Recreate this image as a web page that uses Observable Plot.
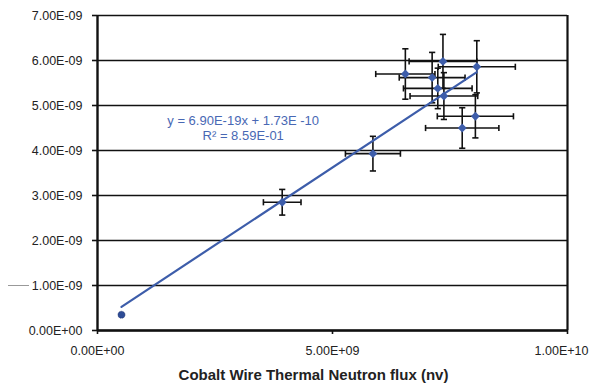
<!DOCTYPE html>
<html>
<head>
<meta charset="utf-8">
<script src="https://cdn.jsdelivr.net/npm/d3@7"></script>
<script src="https://cdn.jsdelivr.net/npm/@observablehq/plot@0.6"></script>
<style>
  html, body { margin: 0; padding: 0; background: #fff; }
  #chart { position: relative; width: 592px; height: 386px; }
  #chart svg { font-family: "Liberation Sans", Arial, sans-serif; }
  #dash { position: absolute; left: 8px; top: 285px; width: 21px; height: 0; border-top: 1px solid #999; }
</style>
</head>
<body>
<div id="chart"><div id="dash"></div></div>
<script>
// Cobalt wire thermal neutron flux (nv) and measured values
const flux    = [0.51e9, 3.93e9, 5.86e9, 6.55e9, 7.12e9, 7.35e9, 8.07e9, 7.24e9, 7.37e9, 8.04e9, 7.76e9];
const rate    = [0.35e-9, 2.85e-9, 3.93e-9, 5.70e-9, 5.62e-9, 5.98e-9, 5.86e-9, 5.38e-9, 5.21e-9, 4.76e-9, 4.50e-9];
const fluxErr = [0, 0.40e9, 0.585e9, 0.63e9, 0.70e9, 0.72e9, 0.82e9, 0.73e9, 0.72e9, 0.81e9, 0.78e9];
const rateErr = [0, 0.285e-9, 0.385e-9, 0.56e-9, 0.56e-9, 0.60e-9, 0.58e-9, 0.45e-9, 0.52e-9, 0.48e-9, 0.45e-9];
const isReference = [true, false, false, false, false, false, false, false, false, false, false];

// Trendline parameters
const slope = 6.90e-19;
const intercept = 1.73e-10;
const equationText = ["y = 6.90E-19x + 1.73E -10", "R² = 8.59E-01"];
const equationPos = [3.1e9, 4.5e-9];

// Axis ticks and title
const xTicks = [0, 5e9, 1e10];
const yTicks = [0, 1e-9, 2e-9, 3e-9, 4e-9, 5e-9, 6e-9, 7e-9];
const xTitle = "Cobalt Wire Thermal Neutron flux (nv)";

function fmtE(d) {
  const [m, e] = d.toExponential(2).split("e");
  const n = +e;
  return m + "E" + (n < 0 ? "-" : "+") + String(Math.abs(n)).padStart(2, "0");
}

const data = flux.map((x, i) => ({
  x, y: rate[i], ex: fluxErr[i], ey: rateErr[i], ref: isReference[i]
}));
const errData = data.filter(d => d.ex > 0 || d.ey > 0);
const mainPts = data.filter(d => !d.ref);
const refPts = data.filter(d => d.ref);

const [xmin, xmax] = d3.extent(flux);
const trend = [xmin, xmax].map(x => ({x, y: slope * x + intercept}));

const vCap = {draw(ctx, size) { const r = Math.sqrt(size) / 2; ctx.moveTo(0, -r); ctx.lineTo(0, r); }};
const hCap = {draw(ctx, size) { const r = Math.sqrt(size) / 2; ctx.moveTo(-r, 0); ctx.lineTo(r, 0); }};
const diamond = {draw(ctx, size) { const r = Math.sqrt(size) / 2; ctx.moveTo(0, -r); ctx.lineTo(r, 0); ctx.lineTo(0, r); ctx.lineTo(-r, 0); ctx.closePath(); }};

const blue = "#3D5DAA";
const lastX = xTicks[xTicks.length - 1];

const chart = Plot.plot({
  width: 592,
  height: 386,
  marginLeft: 97,
  marginRight: 25,
  marginTop: 15,
  marginBottom: 56,
  style: {fontFamily: "Liberation Sans, Arial, sans-serif", fontSize: "12.5px", color: "#222", background: "#fff"},
  x: {domain: [0, 1e10]},
  y: {domain: [0, 7e-9]},
  marks: [
    Plot.ruleY(yTicks, {stroke: "#111", strokeWidth: 1.7}),
    Plot.ruleX([1e10], {stroke: "#111", strokeWidth: 2.2}),
    Plot.ruleX([0], {stroke: "#111", strokeWidth: 2.4}),
    Plot.ruleY([0], {stroke: "#111", strokeWidth: 2.4}),
    // error bars
    Plot.link(errData, {x1: d => d.x - d.ex, x2: d => d.x + d.ex, y1: "y", y2: "y", stroke: "#111", strokeWidth: 1.6}),
    Plot.link(errData, {x1: "x", x2: "x", y1: d => d.y - d.ey, y2: d => d.y + d.ey, stroke: "#111", strokeWidth: 1.6}),
    Plot.dot(errData, {x: d => d.x - d.ex, y: "y", symbol: vCap, r: 3.5, stroke: "#111", strokeWidth: 1.6}),
    Plot.dot(errData, {x: d => d.x + d.ex, y: "y", symbol: vCap, r: 3.5, stroke: "#111", strokeWidth: 1.6}),
    Plot.dot(errData, {x: "x", y: d => d.y - d.ey, symbol: hCap, r: 3.5, stroke: "#111", strokeWidth: 1.6}),
    Plot.dot(errData, {x: "x", y: d => d.y + d.ey, symbol: hCap, r: 3.5, stroke: "#111", strokeWidth: 1.6}),
    // trendline
    Plot.line(trend, {x: "x", y: "y", stroke: blue, strokeWidth: 2.2}),
    // points
    Plot.dot(mainPts, {x: "x", y: "y", symbol: diamond, r: 5, fill: blue, stroke: "none"}),
    Plot.dot(refPts, {x: "x", y: "y", r: 3.5, fill: "#2E4C96", stroke: "#1d2f66", strokeWidth: 0.8, strokeDasharray: "1,1"}),
    // equation
    Plot.text([equationText.join("\n")], {x: () => equationPos[0], y: () => equationPos[1], text: d => d,
      fill: "#4868B4", fontSize: 13, lineHeight: 1.15}),
    Plot.axisX({ticks: xTicks, tickFormat: d => d === lastX ? "" : fmtE(d), tickSize: 4, tickPadding: 12, stroke: "#111", strokeWidth: 1.6, label: null}),
    Plot.text([lastX], {x: d => d, frameAnchor: "bottom", dy: 16, dx: -6, lineAnchor: "top", text: fmtE, fill: "#222"}),
    Plot.axisY({ticks: yTicks, tickFormat: fmtE, tickSize: 5, tickPadding: 10, stroke: "#111", strokeWidth: 1.6, label: null}),
    Plot.text([xTitle], {frameAnchor: "bottom", dy: 45, dx: -19, lineAnchor: "middle", text: d => d,
      fontWeight: "bold", fontSize: 15, fill: "#222"})
  ]
});
document.getElementById("chart").appendChild(chart);
</script>
</body>
</html>
